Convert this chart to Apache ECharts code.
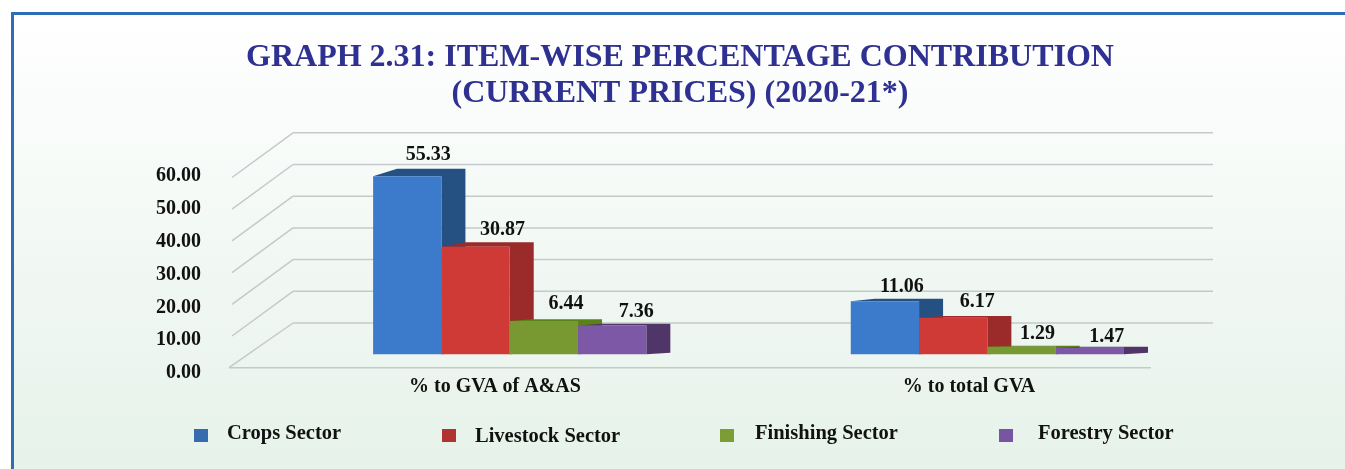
<!DOCTYPE html>
<html>
<head>
<meta charset="utf-8">
<style>html,body{margin:0;padding:0;background:#fff}#chart{width:1345px;height:469px}</style>
<script src="https://cdn.jsdelivr.net/npm/echarts@6/dist/echarts.min.js"></script>
</head>
<body>
<div id="chart"></div>
<script>
// ---- values ----
var categories = ['% to GVA of A&AS', '% to total GVA'];
var axisTicks = [0, 10, 20, 30, 40, 50, 60];

// The figures printed above the bars.
var cropsPrinted = ['55.33', '11.06'];
var livestockPrinted = ['30.87', '6.17'];
var fishingPrinted = ['6.44', '1.29'];
var forestryPrinted = ['7.36', '1.47'];

// The bar heights as the reference actually draws them, read against its axis
// scale. They do not track the printed figures exactly (the source picture
// over-draws small bars), so they are kept apart from the printed labels.
var cropsDrawn = [56.2, 16.7];
var livestockDrawn = [33.9, 11.5];
var fishingDrawn = [10.5, 2.4];
var forestryDrawn = [9.1, 2.1];

var seriesNames = ['Crops Sector', 'Livestock Sector', 'Finishing Sector', 'Forestry Sector'];

// ---- styling and projection ----
var FONT = '"Liberation Serif", serif';
var INK = '#111';
var frontColors = ['#3C7ACC', '#CF3A36', '#789832', '#7D58A6'];
var sideColors = ['#255082', '#9B2B2A', '#5A8218', '#4F3568'];
var legendColors = ['#356CB0', '#B03330', '#7C9C36', '#7755A2'];
var legendLeft = [194, 442, 720, 999];
var legendTop = [423, 426, 423, 423];
var legendTextGap = [14, 14, 16, 20];
// Square swatches whose path box holds a blank strip, so swatch and text sit at
// different heights as they do in the reference.
var ICON_LOW = 'path://M0 0L0 0ZM0 4H14V17H0Z';
var ICON_HIGH = 'path://M0 0H14V13H0ZM0 15L0 15Z';
var legendIcons = [ICON_LOW, ICON_HIGH, ICON_LOW, ICON_LOW];
var legendIconHeights = [17, 15, 17, 17];
var GRID_LINE = '#C6C9C9';
var FRONT_X = 232, FLOOR_X = 229, WALL_DY = 44.7, WALL_X0 = 293, WALL_X1 = 1213, FLOOR_X1 = 1151;
var BAR_FLOOR_LIFT = 13.4, BAR_DEPTH = 24, BAR_SHARE = 0.143;
var labelNudge = [[[0, 1], [-4, 3]], [[6, 3], [3, 1]], [[1, 0], [-5, 3]], [[3, 3], [-4, 5]]];

function wallRender(params, api) {
  var v = api.value(1);
  var y = api.coord([0, v])[1];
  var sty = { stroke: GRID_LINE, lineWidth: 1.5 };
  var startX = v === 0 ? FLOOR_X : FRONT_X;
  var kids = [
    { type: 'line', shape: { x1: startX, y1: y, x2: WALL_X0, y2: y - WALL_DY }, style: sty },
    { type: 'line', shape: { x1: WALL_X0, y1: y - WALL_DY, x2: WALL_X1, y2: y - WALL_DY }, style: sty }
  ];
  if (v === 0) {
    kids.push({ type: 'line', shape: { x1: FLOOR_X, y1: y, x2: FLOOR_X1, y2: y }, style: sty });
  }
  return { type: 'group', children: kids };
}

function barRender(seriesIdx, printed) {
  return function (params, api) {
    var cat = api.value(0), i = params.dataIndex;
    var c0 = api.coord([cat, 0]), c1 = api.coord([cat, api.value(1)]);
    var w = api.size([1, 0])[0] * BAR_SHARE;
    var x = c0[0] + (seriesIdx - 2) * w;
    var base = c0[1] - BAR_FLOOR_LIFT, top = c1[1] - BAR_FLOOR_LIFT;
    var rise = (base - top) * 0.0375 + 0.6;
    var d = BAR_DEPTH, back = top - rise;
    var nudge = labelNudge[seriesIdx][i];
    var shade = sideColors[seriesIdx];
    return {
      type: 'group',
      children: [
        { type: 'polygon', shape: { points: [[x, top], [x + d, back], [x + w + d, back], [x + w + d, base - 1.5], [x + w, base], [x + w, top]] }, style: { fill: shade } },
        { type: 'rect', shape: { x: x, y: top, width: w, height: base - top }, style: { fill: frontColors[seriesIdx] } },
        { type: 'text', z2: 100, style: { text: printed[i], x: x + w / 2 + 21 + nudge[0], y: back - 15 + nudge[1], fill: INK, font: 'bold 20px ' + FONT, align: 'center', verticalAlign: 'middle' } }
      ]
    };
  };
}

function barSeries(idx, drawn, printed) {
  return {
    type: 'custom',
    name: seriesNames[idx],
    xAxisIndex: 0,
    yAxisIndex: 0,
    clip: false,
    z: 5 + idx,
    itemStyle: { color: legendColors[idx] },
    renderItem: barRender(idx, printed),
    encode: { x: 0, y: 1 },
    data: drawn.map(function (v, k) { return [k, v]; })
  };
}

var chart = echarts.init(document.getElementById('chart'), null, { renderer: 'canvas' });
chart.setOption({
  animation: false,
  backgroundColor: '#fff',
  graphic: [{
    type: 'rect', z: -10, silent: true,
    shape: { x: 12.5, y: 13.5, width: 1400, height: 500 },
    style: {
      fill: new echarts.graphic.LinearGradient(0, 0, 0, 1, [
        { offset: 0, color: '#FFFFFF' }, { offset: 0.91, color: '#E6F2EA' }, { offset: 1, color: '#E6F2EA' }
      ]),
      stroke: '#2F6DB5', lineWidth: 3
    }
  }],
  title: {
    text: 'GRAPH 2.31: ITEM-WISE PERCENTAGE CONTRIBUTION\n(CURRENT PRICES) (2020-21*)',
    left: 675, top: 35, textAlign: 'center',
    textStyle: { fontFamily: FONT, fontWeight: 'bold', fontSize: 32, lineHeight: 36, color: '#2E3192' }
  },
  legend: seriesNames.map(function (n, i) {
    return {
      data: [{ name: n, icon: legendIcons[i], itemStyle: { color: legendColors[i] } }],
      left: legendLeft[i], top: legendTop[i], padding: 0,
      itemWidth: 14, itemHeight: legendIconHeights[i], selectedMode: false,
      textStyle: { fontFamily: FONT, fontWeight: 'bold', fontSize: 20.5, color: INK, padding: [0, 0, 0, legendTextGap[i]] }
    };
  }),
  grid: [
    { left: 270.9, width: 955.3, top: 177.5, height: 190.2 },
    { left: 258, width: 948, top: 176, height: 197 }
  ],
  xAxis: [
    { gridIndex: 0, type: 'category', data: categories, show: false },
    { gridIndex: 1, type: 'category', data: categories, axisLine: { show: false }, axisTick: { show: false },
      axisLabel: { margin: 4, color: INK, fontFamily: FONT, fontWeight: 'bold', fontSize: 20 } }
  ],
  yAxis: [
    { gridIndex: 0, type: 'value', min: 0, max: 60, interval: 10, show: false },
    { gridIndex: 1, type: 'value', min: 0, max: 60, interval: 10, axisLine: { show: false }, axisTick: { show: false }, splitLine: { show: false },
      axisLabel: { margin: 57, color: INK, fontFamily: FONT, fontWeight: 'bold', fontSize: 20, formatter: function (v) { return v.toFixed(2); } } }
  ],
  series: [
    { type: 'custom', name: 'wall', xAxisIndex: 0, yAxisIndex: 0, clip: false, silent: true, z: 1, renderItem: wallRender,
      encode: { x: 0, y: 1 }, data: axisTicks.map(function (t) { return [0, t]; }) },
    barSeries(0, cropsDrawn, cropsPrinted),
    barSeries(1, livestockDrawn, livestockPrinted),
    barSeries(2, fishingDrawn, fishingPrinted),
    barSeries(3, forestryDrawn, forestryPrinted)
  ]
});
</script>
</body>
</html>
